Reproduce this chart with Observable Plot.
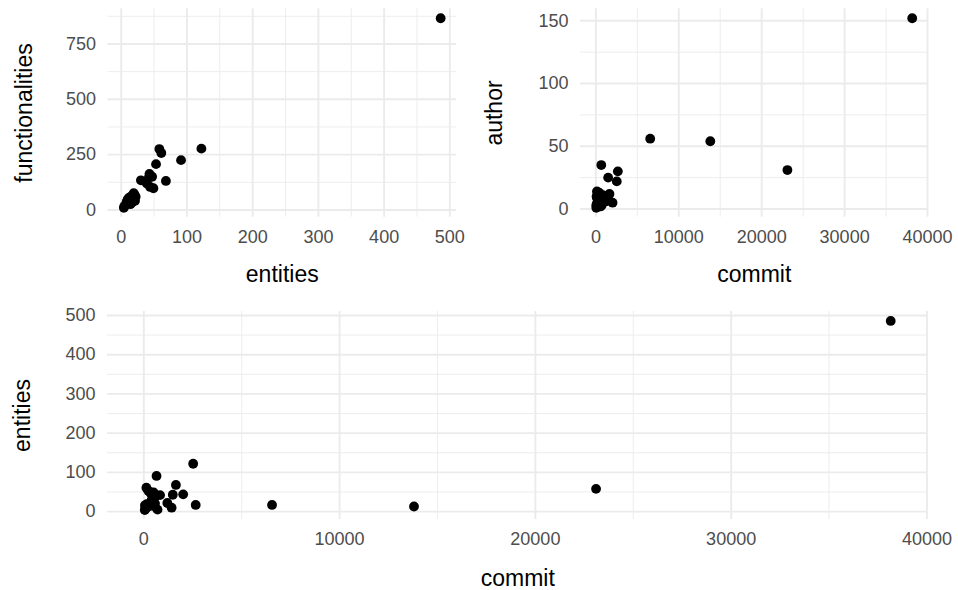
<!DOCTYPE html>
<html><head><meta charset="utf-8">
<script src="https://cdn.jsdelivr.net/npm/d3@7"></script>
<script src="https://cdn.jsdelivr.net/npm/@observablehq/plot@0.6"></script>
<style>
body{margin:0;background:#fff;}
#chart{position:relative;width:958px;height:590px;font-family:"Liberation Sans",Arial,Helvetica,sans-serif;}
#chart svg{position:absolute;overflow:visible;}
</style></head><body><div id="chart"></div>
<script>
// one row per project
const entities        = [486, 58, 13, 17, 122, 17, 91, 68, 43, 44, 10, 61, 53, 42, 30, 39, 49, 19, 16, 21, 8, 4, 14, 47, 12, 5, 22, 20, 9];
const functionalities = [866, 275, 30, 35, 277, 45, 225, 131, 163, 104, 48, 257, 207, 146, 134, 119, 98, 76, 63, 41, 33, 10, 26, 150, 55, 18, 60, 70, 40];
const commit          = [38150, 23100, 13800, 6550, 2520, 2650, 650, 1640, 1480, 2010, 1420, 130, 230, 830, 400, 600, 500, 150, 60, 570, 100, 50, 490, 350, 200, 700, 1200, 300, 80];
const author          = [152, 31, 54, 56, 22, 30, 35, 12, 25, 5, 8, 14, 6, 11, 13, 10, 4, 9, 3, 2, 4, 1, 5, 7, 8, 3, 6, 12, 10];

// tick values
const entTicks = [0, 100, 200, 300, 400, 500];
const entMinor = [50, 150, 250, 350, 450];
const funTicks = [0, 250, 500, 750];
const funMinor = [125, 375, 625, 875];
const comTicks = [0, 10000, 20000, 30000, 40000];
const comMinor = [5000, 15000, 25000, 35000];
const autTicks = [0, 50, 100, 150];
const autMinor = [25, 75, 125];
const entTicksB = [0, 100, 200, 300, 400, 500];
const entMinorB = [50, 150, 250, 350, 450];

const projects = entities.map((e, i) => ({entities: e, functionalities: functionalities[i], commit: commit[i], author: author[i]}));

function expand(vals) {
  const [a, b] = d3.extent(vals);
  const r = b - a;
  return [a - 0.05 * r, b + 0.05 * r];
}

const GRID = "#EBEBEB";
function panel(o) {
  const svg = Plot.plot({
    width: o.width, height: o.height,
    marginLeft: o.mL, marginRight: o.mR, marginTop: o.mT, marginBottom: o.mB,
    x: {domain: expand(projects.map(d => d[o.x])), axis: null},
    y: {domain: expand(projects.map(d => d[o.y])), axis: null},
    style: {fontFamily: '"Liberation Sans", Arial, Helvetica, sans-serif', background: "transparent", overflow: "visible"},
    marks: [
      Plot.ruleX(o.xMinor, {stroke: GRID, strokeWidth: 0.9}),
      Plot.ruleY(o.yMinor, {stroke: GRID, strokeWidth: 0.9}),
      Plot.ruleX(o.xMajor, {stroke: GRID, strokeWidth: 1.9}),
      Plot.ruleY(o.yMajor, {stroke: GRID, strokeWidth: 1.9}),
      Plot.axisX({ticks: o.xMajor, tickSize: 0, tickPadding: 13, fontSize: 18, color: "#4D4D4D", label: null, tickFormat: d => String(d)}),
      Plot.axisY({ticks: o.yMajor, tickSize: 0, tickPadding: 12, fontSize: 18, color: "#4D4D4D", label: null, tickFormat: d => String(d)}),
      Plot.dot(projects, {x: o.x, y: o.y, r: 4.9, fill: "black", stroke: null}),
      Plot.text([o.x], {text: d => d, frameAnchor: "bottom", textAnchor: "middle", lineAnchor: "bottom", dy: o.xTitleDy, fontSize: 23, fill: "black"}),
      Plot.text([o.y], {text: d => d, frameAnchor: "left", textAnchor: "middle", lineAnchor: "bottom", rotate: -90, dx: o.yTitleDx, fontSize: 23, fill: "black"})
    ]
  });
  svg.style.left = o.left + "px";
  svg.style.top = o.top + "px";
  document.getElementById("chart").appendChild(svg);
}

panel({x: "entities", y: "functionalities", xMajor: entTicks, xMinor: entMinor, yMajor: funTicks, yMinor: funMinor,
  left: 0, top: 0, width: 479, height: 290, mL: 107.5, mR: 23, mT: 8.3, mB: 73.3, xTitleDy: 65, yTitleDx: -76});
panel({x: "commit", y: "author", xMajor: comTicks, xMinor: comMinor, yMajor: autTicks, yMinor: autMinor,
  left: 479, top: 0, width: 479, height: 290, mL: 101, mR: 30.5, mT: 8.3, mB: 73.3, xTitleDy: 65, yTitleDx: -79});
panel({x: "commit", y: "entities", xMajor: comTicks, xMinor: comMinor, yMajor: entTicksB, yMinor: entMinorB,
  left: 0, top: 290, width: 958, height: 300, mL: 107, mR: 30.5, mT: 21, mB: 71, xTitleDy: 66, yTitleDx: -77.5});
</script></body></html>
